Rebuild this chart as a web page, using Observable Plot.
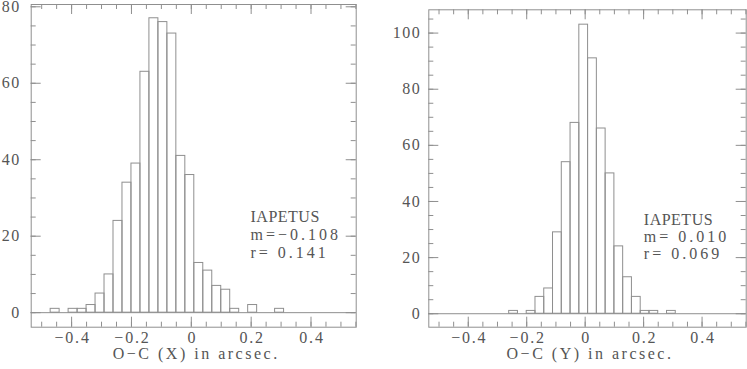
<!DOCTYPE html>
<html><head><meta charset="utf-8">
<script src="https://cdn.jsdelivr.net/npm/d3@7"></script>
<script src="https://cdn.jsdelivr.net/npm/@observablehq/plot@0.6"></script>
<style>
body{margin:0;background:#fff;}
#wrap{display:flex;width:747px;height:369px;overflow:hidden;}
g[aria-description="xlab"] text{letter-spacing:1.8px;}
g[aria-description="ylab"] text{letter-spacing:1.5px;}
g[aria-description="title"] text{letter-spacing:2.5px;}
g[aria-description="name"] text{letter-spacing:0.5px;}
g[aria-description="stat"] text{letter-spacing:3px;}
</style></head><body><div id="wrap"></div>
<script>
// lower bin edges (arcsec), bin width 0.03
const binLo = [-0.50,-0.47,-0.44,-0.41,-0.38,-0.35,-0.32,-0.29,-0.26,-0.23,-0.20,-0.17,-0.14,-0.11,-0.08,-0.05,-0.02,0.01,0.04,0.07,0.10,0.13,0.16,0.19,0.22,0.25,0.28];
const binWidth = 0.03;
const countsX = [0,1,0,1,1,2,5,10,24,34,39,63,77,76,73,41,36,13,11,7,6,1,0,2,0,0,1];
const countsY = [0,0,0,0,0,0,0,0,1,0,1,6,9,29,54,68,103,91,66,50,24,13,6,1,1,0,1];
const xTickValues = [-0.4,-0.2,0,0.2,0.4];
const xTickLabels = ["\u22120.4","\u22120.2","0","0.2","0.4"];
const yTicksLeft = [0,20,40,60,80];
const yTicksRight = [0,20,40,60,80,100];
const notesLeft = ["IAPETUS","m=\u22120.108","r= 0.141"];
const notesRight = ["IAPETUS","m= 0.010","r= 0.069"];
const titleLeft = "O\u2212C (X) in arcsec.";
const titleRight = "O\u2212C (Y) in arcsec.";

const LINE = "#8f8f8f";
const TEXT = "#555";
const FONT = "Liberation Serif";
const xMinor = d3.range(-10, 12).map(i => i * 0.05);

function panel({counts, yDomain, yTicks, yMax, notes, title, width, mL, mR, mT, mB, yLabDx, noteDx, noteDy}) {
  const H = 369;
  const innerH = H - mT - mB, innerW = width - mL - mR;
  const bins = binLo.map((lo, i) => ({x1: lo, x2: lo + binWidth, n: counts[i]})).filter(d => d.n > 0);
  const yMinor = d3.range(0, yMax + 1, 5);
  const T = {fill: TEXT, fontFamily: FONT, fontSize: 16};
  return Plot.plot({
    width, height: H,
    marginLeft: mL, marginRight: mR, marginTop: mT, marginBottom: mB,
    x: {domain: [-0.535, 0.551], axis: null},
    y: {domain: yDomain, axis: null},
    style: {fontFamily: FONT, fontSize: "16px", color: TEXT, background: "white"},
    marks: [
      Plot.ruleY([0], {stroke: LINE}),
      Plot.rectY(bins, {x1: "x1", x2: "x2", y: "n", stroke: LINE, fill: "none"}),
      Plot.ruleX(xMinor, {x: d => d, stroke: LINE, insetTop: innerH - 5}),
      Plot.ruleX(xMinor, {x: d => d, stroke: LINE, insetBottom: innerH - 5}),
      Plot.ruleY(yMinor, {y: d => d, stroke: LINE, insetRight: innerW - 5}),
      Plot.ruleY(yMinor, {y: d => d, stroke: LINE, insetLeft: innerW - 5}),
      Plot.ruleX(xTickValues, {x: d => d, stroke: LINE, insetTop: innerH - 10}),
      Plot.ruleX(xTickValues, {x: d => d, stroke: LINE, insetBottom: innerH - 10}),
      Plot.ruleY(yTicks, {y: d => d, stroke: LINE, insetRight: innerW - 10}),
      Plot.ruleY(yTicks, {y: d => d, stroke: LINE, insetLeft: innerW - 10}),
      Plot.frame({stroke: LINE}),
      Plot.text(xTickValues, {...T, x: d => d, text: (d, i) => xTickLabels[i], frameAnchor: "bottom", dy: 15.5, dx: 1, ariaDescription: "xlab"}),
      Plot.text(yTicks, {...T, y: d => d, text: d => String(d), frameAnchor: "left", textAnchor: "end", dx: yLabDx, ariaDescription: "ylab"}),
      Plot.text([title], {...T, frameAnchor: "bottom", dy: 32.2, dx: 2.5, ariaDescription: "title"}),
      Plot.text([notes[0]], {...T, frameAnchor: "top-left", textAnchor: "start", dx: noteDx, dy: noteDy[0], ariaDescription: "name"}),
      Plot.text([notes[1]], {...T, frameAnchor: "top-left", textAnchor: "start", dx: noteDx, dy: noteDy[1], ariaDescription: "stat"}),
      Plot.text([notes[2]], {...T, frameAnchor: "top-left", textAnchor: "start", dx: noteDx, dy: noteDy[2], ariaDescription: "stat"})
    ]
  });
}

const wrap = document.getElementById("wrap");
wrap.append(panel({counts: countsX, yDomain: [-3.8, 80.6], yTicks: yTicksLeft, yMax: 80, notes: notesLeft, title: titleLeft,
  width: 372, mL: 30.7, mR: 16.3, mT: 4, mB: 42.3, yLabDx: -10.5, noteDx: 219.3, noteDy: [205.9, 224.2, 241.9]}));
wrap.append(panel({counts: countsY, yDomain: [-4.8, 108.3], yTicks: yTicksRight, yMax: 105, notes: notesRight, title: titleRight,
  width: 375, mL: 56.3, mR: 1.3, mT: 9.3, mB: 42.3, yLabDx: -7.5, noteDx: 215, noteDy: [203.9, 220.6, 237.9]}));
</script></body></html>
